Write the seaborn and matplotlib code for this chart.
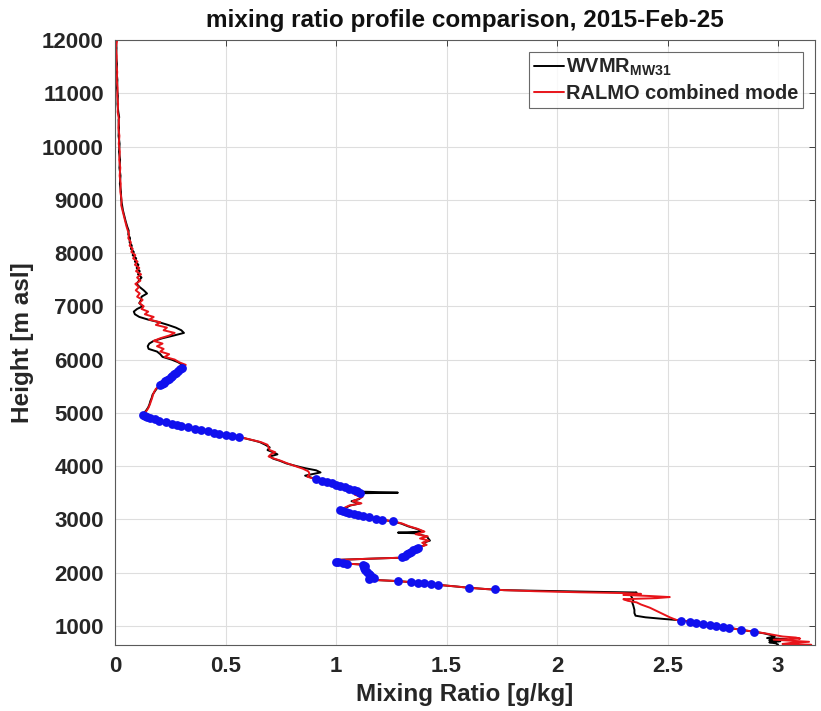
import matplotlib
matplotlib.use("Agg")
import matplotlib.pyplot as plt
import seaborn as sns

# RALMO combined mode profile (height in m asl, mixing ratio in g/kg)
red_h = [12000, 11850, 11700, 11550, 11400, 11250, 11100, 10950, 10800, 10650,
         10500, 10350, 10200, 10050, 9900, 9750, 9600, 9450, 9300, 9150,
         9000, 8900, 8800, 8700, 8600, 8500, 8420, 8350, 8280, 8200,
         8140, 8080, 8020, 7960, 7900, 7840, 7780, 7720, 7660, 7600,
         7540, 7480, 7420, 7360, 7300, 7240, 7180, 7120, 7060, 7000,
         6950, 6900, 6850, 6800, 6750, 6700, 6650, 6600, 6550, 6500,
         6450, 6400, 6350, 6300, 6250, 6200, 6150, 6100, 6050, 6000,
         5950, 5900, 5860, 5800, 5740, 5680, 5620, 5560, 5500, 5450,
         5400, 5340, 5280, 5220, 5160, 5100, 5050, 5000, 4960, 4900,
         4850, 4800, 4750, 4700, 4650, 4600, 4560, 4520, 4480, 4450,
         4400, 4350, 4300, 4260, 4220, 4180, 4140, 4100, 4050, 4000,
         3950, 3900, 3850, 3800, 3750, 3700, 3650, 3600, 3550, 3500,
         3460, 3420, 3380, 3340, 3300, 3260, 3220, 3180, 3120, 3060,
         3000, 2960, 2920, 2870, 2820, 2770, 2720, 2680, 2640, 2600,
         2560, 2520, 2470, 2420, 2370, 2320, 2280, 2260, 2240, 2200,
         2170, 2150, 2120, 2080, 2030, 1980, 1930, 1900, 1880, 1860,
         1840, 1820, 1800, 1770, 1740, 1715, 1690, 1670, 1650, 1630,
         1615, 1600, 1580, 1560, 1540, 1520, 1500, 1470, 1440, 1400,
         1340, 1280, 1220, 1160, 1110, 1080, 1040, 1000, 960, 920,
         890, 860, 830, 800, 780, 760, 740, 720, 700, 680,
         660, 645]
red_x = [0.010, 0.004, 0.008, 0.006, 0.010, 0.008, 0.012, 0.010, 0.014, 0.012,
         0.018, 0.015, 0.020, 0.017, 0.022, 0.019, 0.024, 0.021, 0.026, 0.024,
         0.030, 0.028, 0.034, 0.040, 0.046, 0.052, 0.058, 0.064, 0.060, 0.072,
         0.066, 0.080, 0.074, 0.092, 0.082, 0.102, 0.090, 0.110, 0.095, 0.118,
         0.100, 0.115, 0.092, 0.108, 0.094, 0.112, 0.100, 0.125, 0.110, 0.130,
         0.120, 0.150, 0.135, 0.175, 0.155, 0.205, 0.185, 0.235, 0.220, 0.270,
         0.245, 0.205, 0.175, 0.215, 0.190, 0.220, 0.205, 0.245, 0.225, 0.270,
         0.290, 0.320, 0.310, 0.290, 0.270, 0.255, 0.235, 0.215, 0.200, 0.185,
         0.178, 0.172, 0.168, 0.163, 0.158, 0.152, 0.145, 0.135, 0.128, 0.160,
         0.200, 0.250, 0.300, 0.350, 0.420, 0.470, 0.540, 0.590, 0.630, 0.660,
         0.690, 0.695, 0.700, 0.725, 0.705, 0.695, 0.720, 0.750, 0.780, 0.815,
         0.850, 0.875, 0.880, 0.870, 0.910, 0.960, 1.000, 1.040, 1.080, 1.110,
         1.085, 1.120, 1.100, 1.075, 1.115, 1.060, 1.040, 1.020, 1.060, 1.120,
         1.200, 1.260, 1.300, 1.330, 1.370, 1.400, 1.360, 1.415, 1.380, 1.420,
         1.390, 1.410, 1.370, 1.350, 1.330, 1.310, 1.300, 1.150, 1.020, 1.000,
         1.040, 1.120, 1.130, 1.120, 1.135, 1.150, 1.160, 1.170, 1.140, 1.180,
         1.280, 1.340, 1.400, 1.460, 1.540, 1.600, 1.680, 1.760, 1.900, 2.100,
         2.300, 2.380, 2.300, 2.420, 2.510, 2.450, 2.300, 2.320, 2.360, 2.380,
         2.420, 2.450, 2.480, 2.510, 2.540, 2.600, 2.660, 2.720, 2.780, 2.840,
         2.890, 2.940, 2.980, 3.020, 3.080, 3.100, 2.980, 3.060, 3.140, 3.060,
         3.020, 3.150]

# WVMR MW31 profile
black_h = [12000, 11850, 11700, 11550, 11400, 11250, 11100, 10950, 10800, 10650,
           10550, 10500, 10350, 10200, 10050, 9900, 9750, 9600, 9450, 9300,
           9150, 9000, 8900, 8800, 8700, 8600, 8500, 8420, 8350, 8280,
           8200, 8140, 8080, 8020, 7960, 7900, 7840, 7780, 7720, 7660,
           7600, 7540, 7480, 7420, 7360, 7300, 7240, 7180, 7120, 7060,
           7000, 6950, 6900, 6850, 6800, 6750, 6700, 6650, 6600, 6550,
           6500, 6450, 6400, 6350, 6300, 6250, 6200, 6150, 6100, 6050,
           6000, 5950, 5900, 5860, 5800, 5740, 5680, 5620, 5560, 5500,
           5450, 5400, 5340, 5280, 5220, 5160, 5100, 5050, 5000, 4960,
           4900, 4850, 4800, 4750, 4700, 4650, 4600, 4560, 4520, 4480,
           4450, 4400, 4350, 4300, 4260, 4220, 4180, 4140, 4100, 4050,
           4000, 3960, 3920, 3880, 3850, 3820, 3780, 3750, 3700, 3650,
           3600, 3550, 3520, 3500, 3490, 3460, 3420, 3380, 3340, 3300,
           3260, 3220, 3180, 3120, 3060, 3000, 2960, 2920, 2870, 2820,
           2770, 2750, 2735, 2720, 2680, 2600, 2560, 2520, 2470, 2420,
           2370, 2320, 2280, 2260, 2240, 2200, 2170, 2150, 2120, 2080,
           2030, 1980, 1930, 1900, 1880, 1860, 1840, 1820, 1800, 1770,
           1740, 1715, 1690, 1670, 1655, 1640, 1625, 1600, 1560, 1520,
           1480, 1440, 1380, 1300, 1240, 1190, 1160, 1130, 1110, 1080,
           1040, 1000, 960, 920, 890, 860, 830, 800, 770, 750,
           730, 710, 690, 670, 645]
black_x = [0.004, 0.007, 0.005, 0.009, 0.007, 0.011, 0.009, 0.013, 0.011, 0.015,
           0.019, 0.016, 0.018, 0.016, 0.021, 0.018, 0.023, 0.020, 0.025, 0.022,
           0.027, 0.028, 0.032, 0.036, 0.042, 0.048, 0.055, 0.062, 0.060, 0.068,
           0.066, 0.076, 0.072, 0.085, 0.080, 0.096, 0.090, 0.106, 0.098, 0.112,
           0.104, 0.120, 0.108, 0.098, 0.112, 0.130, 0.145, 0.120, 0.118, 0.110,
           0.125, 0.100, 0.085, 0.090, 0.110, 0.150, 0.200, 0.240, 0.275, 0.300,
           0.312, 0.265, 0.215, 0.175, 0.155, 0.148, 0.152, 0.190, 0.205, 0.215,
           0.255, 0.285, 0.305, 0.300, 0.288, 0.270, 0.252, 0.236, 0.218, 0.202,
           0.188, 0.180, 0.170, 0.166, 0.160, 0.156, 0.150, 0.142, 0.132, 0.126,
           0.158, 0.198, 0.248, 0.298, 0.352, 0.418, 0.468, 0.538, 0.588, 0.628,
           0.655, 0.680, 0.700, 0.690, 0.715, 0.735, 0.700, 0.715, 0.745, 0.775,
           0.820, 0.860, 0.910, 0.930, 0.895, 0.860, 0.890, 0.915, 0.955, 0.995,
           1.035, 1.075, 1.110, 1.280, 1.120, 1.090, 1.115, 1.105, 1.070, 1.110,
           1.065, 1.045, 1.025, 1.062, 1.118, 1.198, 1.258, 1.295, 1.325, 1.365,
           1.395, 1.280, 1.375, 1.370, 1.410, 1.425, 1.395, 1.405, 1.372, 1.352,
           1.332, 1.312, 1.302, 1.150, 1.020, 1.000, 1.040, 1.120, 1.132, 1.118,
           1.135, 1.150, 1.160, 1.170, 1.140, 1.180, 1.280, 1.340, 1.400, 1.460,
           1.540, 1.600, 1.680, 1.760, 1.950, 2.150, 2.360, 2.340, 2.335, 2.340,
           2.345, 2.340, 2.345, 2.350, 2.350, 2.355, 2.400, 2.480, 2.540, 2.600,
           2.660, 2.720, 2.780, 2.840, 2.890, 2.935, 2.965, 2.985, 2.950, 3.040,
           2.960, 3.010, 2.960, 2.990, 3.000]

# highlighted RALMO points (blue markers)
blue_x = [0.305, 0.295, 0.285, 0.275, 0.268, 0.260, 0.252, 0.244, 0.236, 0.228, 0.220, 0.212, 0.205,
          0.128, 0.135, 0.145, 0.160, 0.180, 0.200, 0.230, 0.260, 0.280, 0.300, 0.330, 0.360, 0.390,
          0.420, 0.450, 0.470, 0.500, 0.530, 0.560,
          0.910, 0.935, 0.960, 0.980, 1.000, 1.020, 1.040, 1.060, 1.080, 1.095, 1.110,
          1.020, 1.030, 1.045, 1.060, 1.080, 1.100, 1.120, 1.150, 1.180, 1.210, 1.260,
          1.370, 1.360, 1.350, 1.340, 1.330, 1.320, 1.310, 1.300,
          1.000, 1.010, 1.030, 1.050, 1.120, 1.130, 1.125, 1.130, 1.140, 1.150, 1.155, 1.165, 1.170, 1.150,
          1.280, 1.340, 1.370, 1.400, 1.430, 1.460, 1.600, 1.720,
          2.560, 2.600, 2.630, 2.660, 2.690, 2.720, 2.750, 2.780, 2.830, 2.890]
blue_h = [5850, 5815, 5785, 5755, 5725, 5695, 5665, 5640, 5615, 5590, 5565, 5540, 5515,
          4960, 4940, 4920, 4900, 4875, 4850, 4820, 4790, 4770, 4750, 4725, 4705, 4685,
          4650, 4625, 4600, 4585, 4565, 4545,
          3750, 3725, 3700, 3675, 3650, 3625, 3600, 3575, 3550, 3525, 3500,
          3180, 3160, 3140, 3120, 3100, 3080, 3060, 3040, 3015, 2995, 2960,
          2470, 2440, 2420, 2395, 2370, 2345, 2320, 2290,
          2205, 2190, 2175, 2165, 2140, 2115, 2080, 2045, 2010, 1975, 1945, 1915, 1895, 1880,
          1840, 1820, 1810, 1800, 1785, 1770, 1715, 1685,
          1100, 1080, 1060, 1040, 1020, 1000, 980, 960, 930, 890]

x_ticks = [0, 0.5, 1, 1.5, 2, 2.5, 3]
x_tick_labels = ["0", "0.5", "1", "1.5", "2", "2.5", "3"]
y_ticks = list(range(1000, 12001, 1000))

sns.set_style("whitegrid", rc={"grid.color": "#dedede", "axes.edgecolor": "#3a3a3a"})
plt.rcParams["font.family"] = ["Liberation Sans", "DejaVu Sans"]
plt.rcParams["font.weight"] = "bold"
plt.rcParams["mathtext.fontset"] = "custom"
plt.rcParams["mathtext.rm"] = "Liberation Sans:bold"
plt.rcParams["mathtext.it"] = "Liberation Sans:bold"
plt.rcParams["mathtext.bf"] = "Liberation Sans:bold"

fig = plt.figure(figsize=(8.21, 7.11), dpi=100)
ax = fig.add_axes([115 / 821, 1 - 645 / 711, 700 / 821, 605 / 711])

sns.lineplot(x=black_x, y=black_h, sort=False, estimator=None, color="black",
             linewidth=1.4, label=r"WVMR$_{\rm MW31}$", ax=ax)
sns.lineplot(x=red_x, y=red_h, sort=False, estimator=None, color="#e8141a",
             linewidth=1.4, label="RALMO combined mode", ax=ax)
sns.scatterplot(x=blue_x, y=blue_h, color="#1010ee", s=40, linewidth=0,
                zorder=4, legend=False, ax=ax)

ax.set_xlim(0, 3.167)
ax.set_ylim(640, 12000)
ax.set_xticks(x_ticks)
ax.set_xticklabels(x_tick_labels)
ax.set_yticks(y_ticks)
ax.tick_params(direction="in", length=4, width=0.6, top=True, right=True,
               labelsize=16, colors="#262626", pad=8)
ax.grid(True, color="#dedede", linewidth=0.8)
for s in ax.spines.values():
    s.set_linewidth(0.8)
    s.set_color("#5a5a5a")

ax.set_xlabel("Mixing Ratio [g/kg]", fontsize=17.5, fontweight="bold", color="#262626", labelpad=4)
ax.set_ylabel("Height [m asl]", fontsize=17.5, fontweight="bold", color="#262626", labelpad=6)
ax.set_title("mixing ratio profile comparison, 2015-Feb-25", fontsize=17.5,
             fontweight="bold", color="#111111", pad=9)

leg = ax.legend(loc="upper right", fontsize=14.4, frameon=True, fancybox=False,
                handlelength=1.5, handletextpad=0.1, borderpad=0.25,
                labelspacing=0.3, borderaxespad=0.6)
leg.get_frame().set_edgecolor("#444444")
leg.get_frame().set_linewidth(0.8)
for t in leg.get_texts():
    t.set_fontweight("bold")

fig.savefig("out.png", dpi=100)
